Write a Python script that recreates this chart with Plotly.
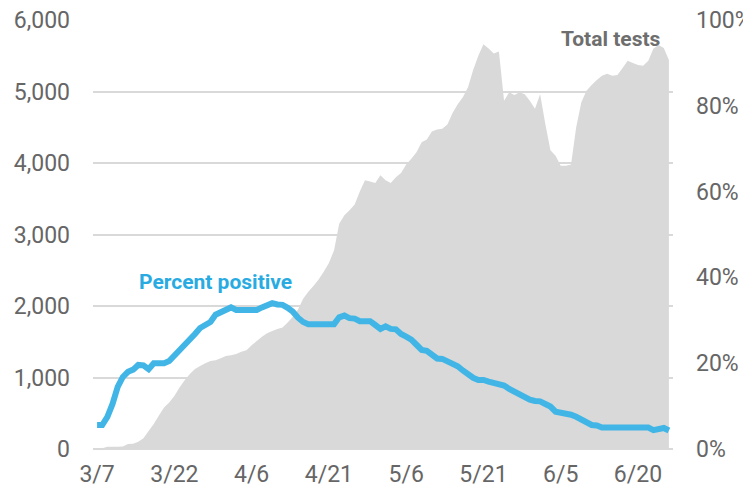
import plotly.graph_objects as go
import pandas as pd

start_date = "2020-03-07"
n_days = 112
dates = pd.date_range(start_date, periods=n_days, freq="D")

total_tests = [
    10, 10, 30, 30, 30, 35, 70, 75, 100, 150,
    250, 350, 470, 580, 650, 740, 860, 960, 1050, 1120,
    1160, 1200, 1230, 1240, 1270, 1300, 1310, 1330, 1360, 1380,
    1450, 1510, 1570, 1620, 1650, 1680, 1700, 1770, 1850, 1950,
    2100, 2200, 2280, 2370, 2480, 2600, 2780, 3150, 3270, 3340,
    3420, 3600, 3760, 3740, 3720, 3830, 3760, 3720, 3800, 3860,
    3980, 4060, 4150, 4290, 4330, 4440, 4470, 4480, 4540, 4700,
    4820, 4920, 5060, 5300, 5500, 5660, 5600, 5530, 5560, 4870,
    4990, 4950, 4990, 4960, 4870, 4760, 4960, 4550, 4180, 4100,
    3960, 3960, 3980, 4500, 4850, 5010, 5090, 5160, 5220, 5250,
    5220, 5230, 5330, 5430, 5400, 5370, 5360, 5430, 5600, 5650,
    5610, 5440,
]

percent_positive = [
    5.6, 5.6, 7.5, 10.5, 14.5, 16.8, 18.0, 18.5, 19.6, 19.5,
    18.6, 20.0, 20.0, 20.0, 20.5, 21.7, 23.0, 24.2, 25.4, 26.8,
    28.2, 29.0, 29.6, 31.3, 31.8, 32.4, 33.0, 32.4, 32.4, 32.4,
    32.4, 32.4, 33.0, 33.6, 34.0, 33.7, 33.6, 32.9, 32.0, 30.6,
    29.6, 29.1, 29.1, 29.1, 29.1, 29.1, 29.1, 30.7, 31.1, 30.5,
    30.4, 29.8, 29.8, 29.8, 28.9, 28.0, 28.6, 28.0, 27.9, 26.8,
    26.2, 25.5, 24.3, 23.1, 22.9, 21.8, 21.1, 21.0, 20.5, 20.0,
    19.3, 18.3, 17.3, 16.6, 16.1, 16.1, 15.7, 15.5, 15.2, 14.8,
    14.0, 13.4, 12.7, 11.9, 11.5, 11.2, 11.1, 10.5, 9.9, 8.7,
    8.5, 8.1, 8.0, 7.5, 6.9, 6.2, 5.6, 5.5, 5.0, 5.0,
    5.0, 5.0, 5.0, 5.0, 5.0, 5.0, 5.0, 5.0, 4.4, 4.6,
    4.9, 4.3,
]

x_tick_dates = ["2020-03-07", "2020-03-22", "2020-04-06", "2020-04-21",
                "2020-05-06", "2020-05-21", "2020-06-05", "2020-06-20"]
x_tick_labels = ["3/7", "3/22", "4/6", "4/21", "5/6", "5/21", "6/5", "6/20"]
left_ticks = [0, 1000, 2000, 3000, 4000, 5000, 6000]
left_tick_labels = ["0", "1,000", "2,000", "3,000", "4,000", "5,000", "6,000"]
right_ticks = [0, 20, 40, 60, 80, 100]
right_tick_labels = ["0%", "20%", "40%", "60%", "80%", "100%"]

GRAY_FILL = "#d9d9d9"
BLUE = "#41b6e6"
TICK_COLOR = "#666666"
FONT = "Roboto"

fig = go.Figure()
fig.add_trace(go.Scatter(
    x=dates, y=total_tests, mode="none", fill="tozeroy",
    fillcolor=GRAY_FILL, yaxis="y", hoverinfo="skip", showlegend=False,
))
fig.add_trace(go.Scatter(
    x=dates, y=percent_positive, mode="lines",
    line=dict(color=BLUE, width=6), yaxis="y2", showlegend=False,
))

fig.add_annotation(x="2020-03-30", y=39, xref="x", yref="y2",
                   text="<b>Percent positive</b>", showarrow=False,
                   font=dict(family=FONT, size=21, color="#29abe2"))
fig.add_annotation(x="2020-06-14 20:00", y=95.5, xref="x", yref="y2",
                   text="<b>Total tests</b>", showarrow=False,
                   font=dict(family=FONT, size=21, color="#6e6e6e"))

# the page body has an 8px default margin, so the figure is 8px smaller
fig.update_layout(
    width=743, height=482,
    margin=dict(l=85, r=78, t=12, b=41),
    paper_bgcolor="white", plot_bgcolor="white",
    font=dict(family=FONT, size=23, color=TICK_COLOR),
    xaxis=dict(
        range=["2020-03-06 05:00", "2020-06-26 19:00"],
        tickvals=x_tick_dates, ticktext=x_tick_labels,
        showgrid=False, zeroline=False, showline=False,
        ticks="", tickfont=dict(size=23, color=TICK_COLOR),
        automargin=False, ticklabelstandoff=9, ticklabeloverflow="allow",
    ),
    yaxis=dict(
        range=[0, 6000], tickvals=left_ticks, ticktext=left_tick_labels,
        showgrid=True, gridcolor=GRAY_FILL, gridwidth=2,
        zeroline=True, zerolinecolor=GRAY_FILL, zerolinewidth=2,
        ticks="", tickfont=dict(size=23, color=TICK_COLOR),
        ticklabelstandoff=22, automargin=False, ticklabeloverflow="allow",
    ),
    yaxis2=dict(
        range=[0, 100], tickvals=right_ticks, ticktext=right_tick_labels,
        overlaying="y", side="right", showgrid=False, zeroline=False,
        ticks="", tickfont=dict(size=23, color=TICK_COLOR),
        ticklabelstandoff=22, automargin=False, ticklabeloverflow="allow",
    ),
)

fig.write_html("out.html")
